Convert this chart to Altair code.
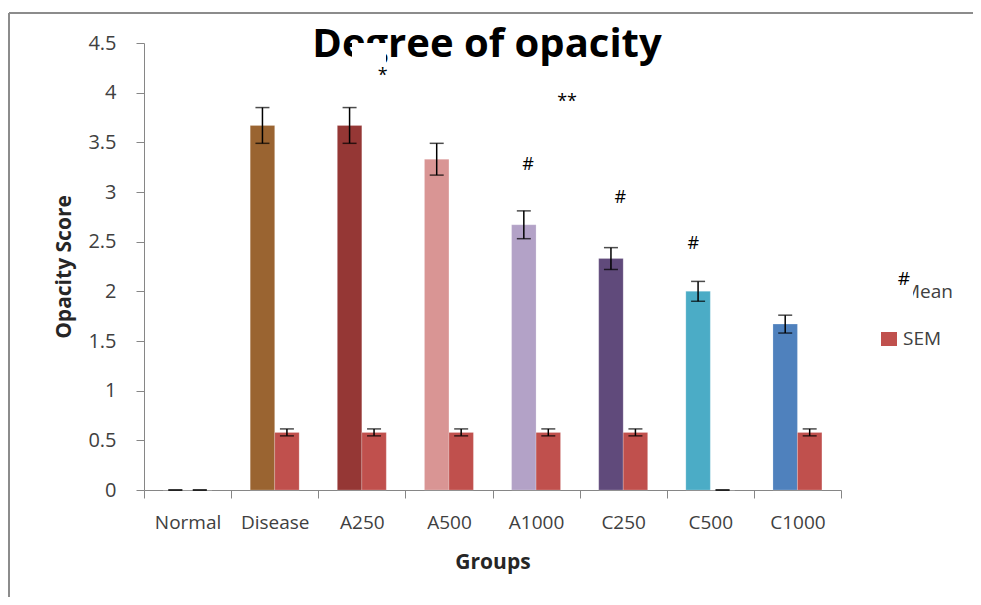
import altair as alt
import pandas as pd

# ---- data ----
groups = ["Normal", "Disease", "A250", "A500", "A1000", "C250", "C500", "C1000"]
mean_vals = [0, 3.67, 3.67, 3.33, 2.67, 2.33, 2.0, 1.67]
mean_err = [0, 0.18, 0.18, 0.16, 0.14, 0.11, 0.10, 0.09]
sem_vals = [0, 0.58, 0.58, 0.58, 0.58, 0.58, 0, 0.58]
sem_err = [0, 0.035, 0.035, 0.035, 0.035, 0.035, 0, 0.035]
mean_colors = ["#9a6431", "#9a6431", "#953735", "#d99594", "#b3a2c7",
               "#604a7b", "#4bacc6", "#4f81bd"]
sem_color = "#c0504d"
series_names = ["Mean", "SEM"]

# annotations: (group, label, y value, dx)
ann_groups = ["A250", "A1000", "A1000", "C250", "C500"]
ann_labels = ["*", "**", "#", "#", "#"]
ann_y = [4.17, 3.91, 3.27, 2.94, 2.48]
ann_dx = [21, 31, -8, -3, -17]

rows = []
for i, g in enumerate(groups):
    rows.append(dict(group=g, series="Mean", value=mean_vals[i],
                     lo=mean_vals[i] - mean_err[i], hi=mean_vals[i] + mean_err[i],
                     ckey=g))
    rows.append(dict(group=g, series="SEM", value=sem_vals[i],
                     lo=sem_vals[i] - sem_err[i], hi=sem_vals[i] + sem_err[i],
                     ckey="SEM"))
df = pd.DataFrame(rows)

FONT = "Open Sans"
AX_COL = "#868686"
LAB_COL = "#404040"

x_scale = alt.Scale(domain=groups, paddingInner=0, paddingOuter=0)
x_enc = alt.X("group:N", sort=groups, scale=x_scale,
              axis=alt.Axis(title="Groups", tickBand="extent", labelAngle=0,
                            domainColor=AX_COL, tickColor=AX_COL, tickSize=8,
                            labelColor=LAB_COL, labelFont=FONT, labelFontSize=19,
                            labelPadding=15, titleFont=FONT, titleFontSize=21,
                            titleFontWeight="bold", titleColor="#262626",
                            titlePadding=19))
x_plain = alt.X("group:N", sort=groups, scale=x_scale)
xoff = alt.XOffset("series:N", scale=alt.Scale(domain=series_names,
                                                paddingInner=0, paddingOuter=0.78))
y_scale = alt.Scale(domain=[0, 4.5], nice=False)
y_enc = alt.Y("value:Q", scale=y_scale,
              axis=alt.Axis(title="Opacity Score", values=[i * 0.5 for i in range(10)],
                            format="~g", grid=False, domainColor=AX_COL,
                            tickColor=AX_COL, tickSize=8, labelColor=LAB_COL,
                            labelFont=FONT, labelFontSize=20, labelPadding=20,
                            titleFont=FONT, titleFontSize=21, titleFontWeight="bold",
                            titleColor="#262626", titlePadding=13))

base = alt.Chart(df)

bars = base.mark_bar(stroke="white", strokeOpacity=0.4, strokeWidth=0.5).encode(
    x=x_enc, xOffset=xoff, y=y_enc,
    color=alt.Color("ckey:N", scale=alt.Scale(domain=groups + ["SEM"],
                                              range=mean_colors + [sem_color]),
                    legend=None),
)
err_rule = base.mark_rule(color="black", strokeWidth=1.5).encode(
    x=x_plain, xOffset=xoff, y=alt.Y("lo:Q", scale=y_scale), y2="hi:Q")
cap_lo = base.mark_tick(color="black", size=14, thickness=1.5).encode(
    x=x_plain, xOffset=xoff, y=alt.Y("lo:Q", scale=y_scale))
cap_hi = base.mark_tick(color="black", size=14, thickness=1.5).encode(
    x=x_plain, xOffset=xoff, y=alt.Y("hi:Q", scale=y_scale))

ann_layers = []
for g, lab, yv, dx in zip(ann_groups, ann_labels, ann_y, ann_dx):
    adf = pd.DataFrame({"group": [g], "label": [lab], "yv": [yv]})
    ann_layers.append(alt.Chart(adf).mark_text(
        font=FONT, fontSize=18, color="black", dx=dx, baseline="middle").encode(
        x=x_plain, y=alt.Y("yv:Q", scale=y_scale), text="label:N"))

# decorations: title, frame, legend (pixel positions relative to plot area)
title_df = pd.DataFrame({"t": ["Degree of opacity"]})
title = alt.Chart(title_df).mark_text(font=FONT, fontSize=40, fontWeight="bold",
                                      color="black", align="center",
                                      baseline="alphabetic").encode(
    x=alt.value(343), y=alt.value(14), text="t:N")
mask = alt.Chart(title_df).mark_rect(color="white").encode(
    x=alt.value(208), x2=alt.value(242), y=alt.value(0), y2=alt.value(30))

frame_top = alt.Chart(title_df).mark_rule(color="#8c8c8c", strokeWidth=2).encode(
    x=alt.value(-135), x2=alt.value(840), y=alt.value(-30))
frame_left = alt.Chart(title_df).mark_rule(color="#8c8c8c", strokeWidth=2).encode(
    x=alt.value(-135), y=alt.value(-30), y2=alt.value(560))

leg_mean = alt.Chart(pd.DataFrame({"s": ["Mean"]})).mark_text(
    font=FONT, fontSize=19, color=LAB_COL, align="left", baseline="middle").encode(
    x=alt.value(759), y=alt.value(249), text="s:N")
leg_mask = alt.Chart(title_df).mark_rect(color="white").encode(
    x=alt.value(734), x2=alt.value(769), y=alt.value(227), y2=alt.value(259))
leg_hash = alt.Chart(pd.DataFrame({"s": ["#"]})).mark_text(
    font=FONT, fontSize=19, color="black", align="center", baseline="middle").encode(
    x=alt.value(760), y=alt.value(236), text="s:N")
leg_sq = alt.Chart(pd.DataFrame({"s": ["SEM"]})).mark_rect(color=sem_color).encode(
    x=alt.value(737), x2=alt.value(753), y=alt.value(289), y2=alt.value(303))
leg_sem = alt.Chart(pd.DataFrame({"s": ["SEM"]})).mark_text(
    font=FONT, fontSize=19, color=LAB_COL, align="left", baseline="middle").encode(
    x=alt.value(759), y=alt.value(296), text="s:N")

chart = alt.layer(
    bars, err_rule, cap_lo, cap_hi, title, mask, *ann_layers,
    frame_top, frame_left, leg_mean, leg_mask, leg_hash, leg_sq, leg_sem
).properties(
    width=697, height=447,
    background="white",
    autosize=alt.AutoSizeParams(type="none"),
    padding={"left": 136, "top": 35, "right": 132, "bottom": 107},
).configure_view(strokeWidth=0, stroke=None)

chart.save("out.html", embed_options={"renderer": "svg", "actions": False})
